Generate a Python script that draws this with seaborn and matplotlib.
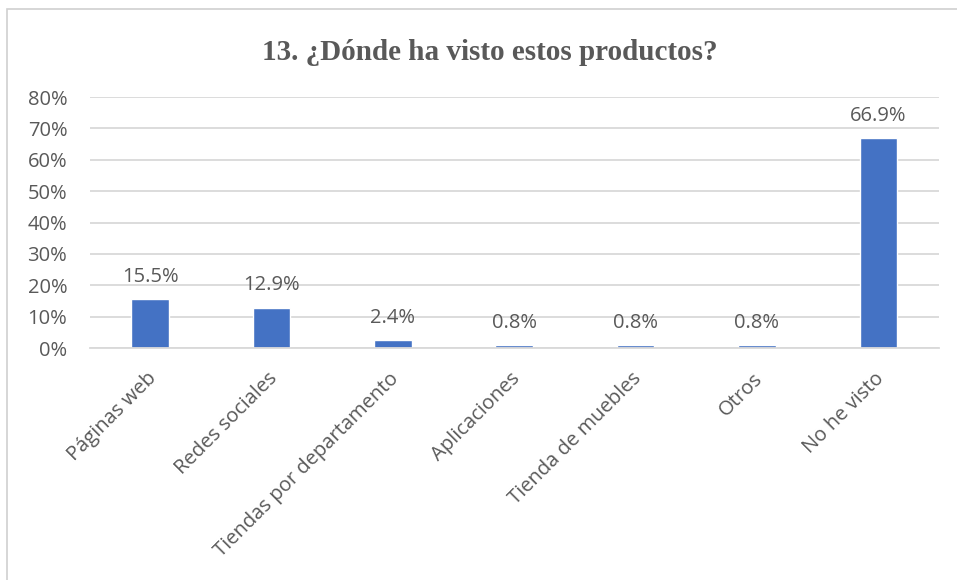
import matplotlib
matplotlib.use("Agg")
import matplotlib.pyplot as plt
from matplotlib.patches import Rectangle
from matplotlib.ticker import PercentFormatter, MultipleLocator
from matplotlib.transforms import ScaledTranslation
import seaborn as sns
import pandas as pd

categories = ["Páginas web", "Redes sociales", "Tiendas por departamento",
              "Aplicaciones", "Tienda de muebles", "Otros", "No he visto"]
values = [15.5, 12.9, 2.4, 0.8, 0.8, 0.8, 66.9]
title = "13. ¿Dónde ha visto estos productos?"

df = pd.DataFrame({"categoria": categories, "valor": values})

sns.set_theme(style="white")
plt.rcParams["font.family"] = ["Open Sans", "DejaVu Sans"]

TEXT = "#595959"
GRID = "#D9D9D9"
BAR = "#4472C4"
FS = 14.5

W, H = 957, 580
fig = plt.figure(figsize=(W / 100, H / 100), dpi=100)
fig.patch.set_facecolor("white")

# chart frame
fig.add_artist(Rectangle((7 / W, -0.05), 1.1, 1 - 9 / H + 0.05, transform=fig.transFigure,
                         fill=False, edgecolor="#D0D0D0", linewidth=1.2))

ax = fig.add_axes([89.5 / W, 1 - 348 / H, (939 - 89.5) / W, (348 - 97) / H])
sns.barplot(data=df, x="categoria", y="valor", color=BAR, width=0.31,
            saturation=1, ax=ax)

ax.set_ylim(0, 80)
ax.yaxis.set_major_locator(MultipleLocator(10))
ax.yaxis.set_major_formatter(PercentFormatter(decimals=0))
ax.grid(axis="y", color=GRID, linewidth=1.3)
ax.set_axisbelow(True)
for s in ["top", "right", "left"]:
    ax.spines[s].set_visible(False)
ax.spines["bottom"].set_color(GRID)
ax.spines["bottom"].set_linewidth(1.3)
ax.set_xlabel("")
ax.set_ylabel("")
ax.tick_params(axis="y", length=0, labelsize=FS, colors=TEXT, pad=16)
ax.tick_params(axis="x", length=0, labelsize=FS, colors=TEXT, pad=20)
shift = ScaledTranslation(3 / 100, 0, fig.dpi_scale_trans)
for lbl in ax.get_xticklabels():
    lbl.set_rotation(45)
    lbl.set_ha("right")
    lbl.set_va("center")
    lbl.set_rotation_mode("anchor")
    lbl.set_transform(lbl.get_transform() + shift)

for i, v in enumerate(values):
    ax.annotate(f"{v:.1f}%", (i, v), xytext=(0, 9), textcoords="offset points",
                ha="center", va="bottom", fontsize=FS, color=TEXT)

fig.text(490 / W, 1 - 53 / H, title, ha="center", va="center", fontsize=21,
         fontweight="bold", color=TEXT, family=["Liberation Serif", "DejaVu Serif"])

fig.savefig("out.png", dpi=100)
